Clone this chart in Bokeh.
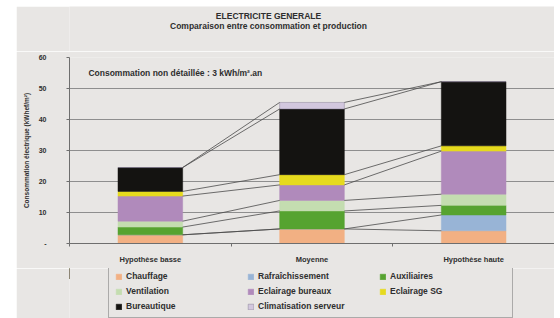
import numpy as np
from bokeh.plotting import figure
from bokeh.models import (ColumnDataSource, FixedTicker, Legend, LegendItem,
                          Label, Spacer, Range1d)
from bokeh.core.properties import value
from bokeh.layouts import row, column
from bokeh.embed import file_html
from bokeh.resources import INLINE

# ---- data ----
categories = ["Hypothèse basse", "Moyenne", "Hypothèse haute"]
series = ["Chauffage", "Rafraîchissement", "Auxiliaires", "Ventilation",
          "Eclairage bureaux", "Eclairage SG", "Bureautique", "Climatisation serveur"]
chauffage = [2.8, 4.7, 4.1]
rafraichissement = [0.0, 0.0, 5.1]
auxiliaires = [2.5, 5.8, 3.1]
ventilation = [1.9, 3.4, 3.6]
eclairage_bureaux = [8.1, 5.0, 13.9]
eclairage_sg = [1.5, 3.3, 1.7]
bureautique = [7.7, 21.2, 20.7]
climatisation_serveur = [0.0, 2.1, 0.0]
y_ticks = [0, 10, 20, 30, 40, 50, 60]
y_tick_labels = ["-", "10", "20", "30", "40", "50", "60"]
title_main = "ELECTRICITE GENERALE"
title_sub = "Comparaison entre consommation et production"
y_label = "Consommation électrique (kWhef/m²)"
note = "Consommation non détaillée : 3 kWh/m².an"

colors = ["#f2b083", "#98b4d6", "#56a330", "#c4ddb0", "#b08abb", "#e6da1e",
          "#141311", "#d2c7de"]
line_colors = colors[:-1] + ["#8a8098"]
BG = "#e8e6e4"
FONT = "Liberation Sans"
TXT = "#2e2e2e"

values = [chauffage, rafraichissement, auxiliaires, ventilation,
          eclairage_bureaux, eclairage_sg, bureautique, climatisation_serveur]
keys = ["s%d" % i for i in range(len(series))]
xpos = [i + 0.5 for i in range(len(categories))]
data = {"x": xpos}
for k, v in zip(keys, values):
    data[k] = v
src = ColumnDataSource(data)


def blank(h):
    f = figure(width=538, height=h, x_range=Range1d(69, 554),
               y_range=Range1d(h, 0), output_backend="svg", toolbar_location=None,
               x_axis_type=None, y_axis_type=None, min_border_left=53,
               min_border_right=0, min_border_top=0, min_border_bottom=0)
    f.background_fill_color = BG
    f.border_fill_color = BG
    f.outline_line_color = None
    f.xgrid.grid_line_color = None
    f.ygrid.grid_line_color = None
    return f


# ---- title strip (page y 6..51) ----
t = blank(45)
t.text(x=[268], y=[9], text=[title_main], text_align="center",
       text_baseline="middle", text_font=value(FONT), text_font_size="8.5px",
       text_font_style="bold", text_color=TXT)
t.text(x=[268], y=[19], text=[title_sub], text_align="center",
       text_baseline="middle", text_font=value(FONT), text_font_size="8.5px",
       text_font_style="bold", text_color=TXT)

# ---- main chart (page y 51..268) ----
p = figure(width=538, height=217, x_range=(0, 3), y_range=(0, 60),
           output_backend="svg", toolbar_location=None,
           min_border_left=53, min_border_right=0, min_border_top=6,
           min_border_bottom=25)
p.background_fill_color = BG
p.border_fill_color = BG
p.outline_line_color = None

bw = 0.4
rs = p.vbar_stack(keys, x="x", width=bw, source=src, fill_color=colors,
                  line_color=line_colors, line_width=0.5)

tops = np.cumsum(np.array(values), axis=0)
x0s, y0s, x1s, y1s = [], [], [], []
for s in range(len(series)):
    for i in range(len(categories) - 1):
        x0s.append(xpos[i] + bw / 2)
        y0s.append(tops[s, i])
        x1s.append(xpos[i + 1] - bw / 2)
        y1s.append(tops[s, i + 1])
p.segment(x0=x0s, y0=y0s, x1=x1s, y1=y1s, line_color="#4a4a4a", line_width=0.8)

p.xgrid.grid_line_color = None
p.ygrid.grid_line_color = "#8e8e8e"
p.ygrid.grid_line_width = 1
p.yaxis.ticker = FixedTicker(ticks=y_ticks)
p.yaxis.major_label_overrides = {t_: l for t_, l in zip(y_ticks, y_tick_labels)}
p.yaxis.axis_line_color = "#6e6e6e"
p.yaxis.major_tick_line_color = "#6e6e6e"
p.yaxis.major_tick_out = 3
p.yaxis.major_tick_in = 0
p.yaxis.minor_tick_line_color = None
p.yaxis.major_label_standoff = 20
p.yaxis.major_label_text_font = FONT
p.yaxis.major_label_text_font_size = "7px"
p.yaxis.major_label_text_font_style = "bold"
p.yaxis.major_label_text_color = TXT
p.yaxis.axis_label = y_label
p.yaxis.axis_label_text_font = FONT
p.yaxis.axis_label_text_font_size = "6.5px"
p.yaxis.axis_label_text_font_style = "bold"
p.yaxis.axis_label_text_color = TXT
p.yaxis.axis_label_standoff = 6

p.xaxis.ticker = FixedTicker(ticks=xpos, minor_ticks=[0, 1, 2, 3])
p.xaxis.major_label_overrides = {t_: c for t_, c in zip(xpos, categories)}
p.xaxis.axis_line_color = "#6e6e6e"
p.xaxis.major_tick_line_color = None
p.xaxis.minor_tick_line_color = "#6e6e6e"
p.xaxis.minor_tick_out = 3
p.xaxis.minor_tick_in = 0
p.xaxis.major_label_standoff = 5
p.xaxis.major_label_text_font = FONT
p.xaxis.major_label_text_font_size = "7.5px"
p.xaxis.major_label_text_font_style = "bold"
p.xaxis.major_label_text_color = TXT

p.add_layout(Label(x=0.117, y=55.0, text=note, text_font=FONT,
                   text_font_size="8.5px", text_font_style="bold",
                   text_color=TXT, text_baseline="middle"))

# ---- legend strip (page y 268..318) ----
q = blank(50)
dummies = [q.vbar(x=[-1000], top=[10], bottom=[0], width=1, fill_color=c,
                  line_color=lc, line_width=0.5)
           for c, lc in zip(colors, line_colors)]
legend = Legend(items=[LegendItem(label=s, renderers=[r]) for s, r in zip(series, dummies)],
                orientation="horizontal", ncols=3, location=(39, 0),
                label_text_font=FONT, label_text_font_size="8.5px",
                label_text_color=TXT, label_text_font_style="bold",
                glyph_width=7, glyph_height=7, label_standoff=4,
                label_width=116, label_height=9, spacing=5, padding=6,
                border_line_color="#6e6e6e", border_line_width=1,
                background_fill_color=BG, background_fill_alpha=1.0)
q.add_layout(legend)

lay = column(Spacer(width=554, height=6),
             row(Spacer(width=16, height=312), column(t, p, q)))
open("out.html", "w").write(file_html(lay, INLINE))
